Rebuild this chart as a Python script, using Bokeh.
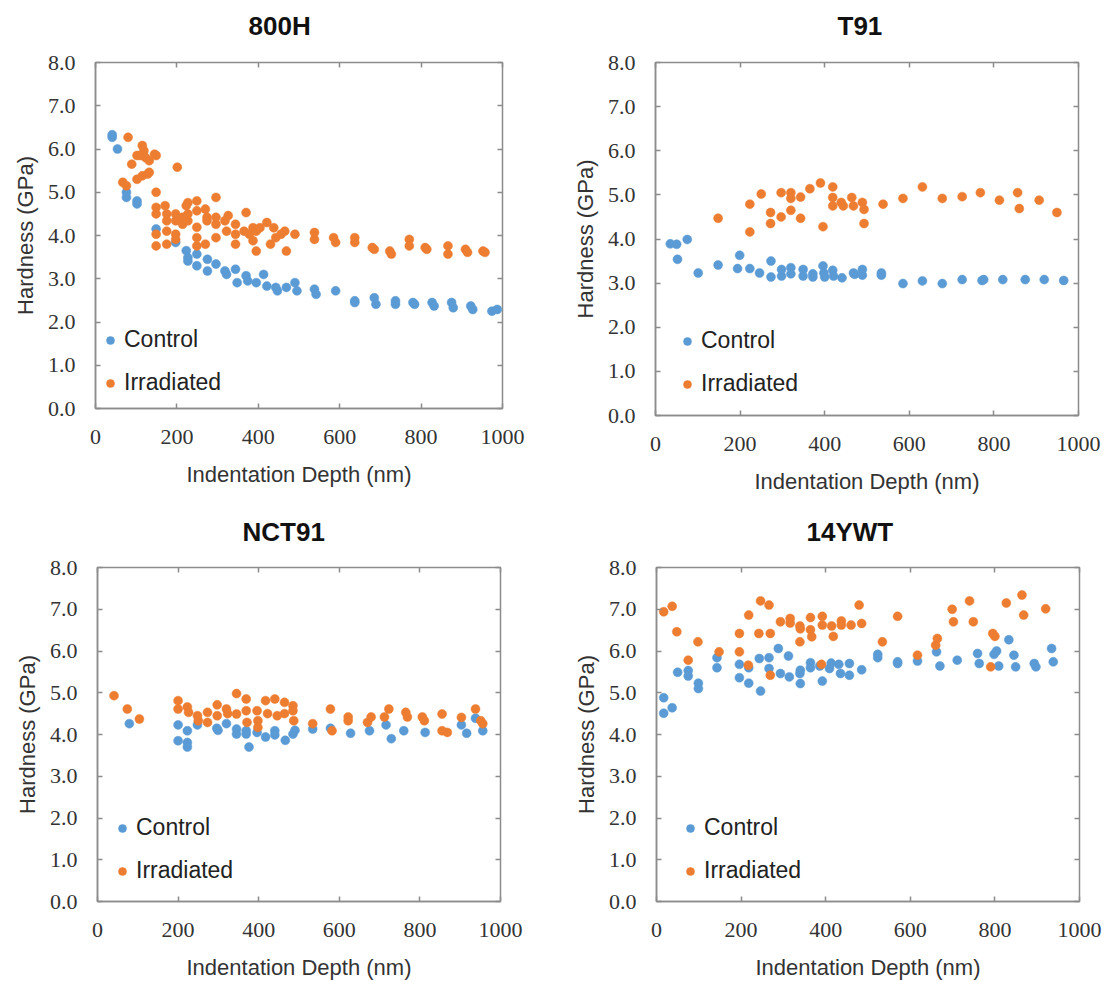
from bokeh.plotting import figure
from bokeh.models import (FixedTicker, LinearAxis, Legend, LegendItem, Title,
                          PrintfTickFormatter, CustomJSTickFormatter)
from bokeh.layouts import column, row
from bokeh.embed import file_html
from bokeh.resources import INLINE

# ---------------- data ----------------
x_ticks = [0, 200, 400, 600, 800, 1000]
y_ticks = [0, 1, 2, 3, 4, 5, 6, 7, 8]
titles = ["800H", "T91", "NCT91", "14YWT"]
series_names = ["Control", "Irradiated"]
x_label = "Indentation Depth (nm)"
y_label = "Hardness (GPa)"

h800_ctrl_x = [41, 41, 54, 76, 76, 102, 102, 149, 197, 223, 227, 227, 249, 249, 275, 275, 296, 318, 322, 344,
               348, 370, 374, 395, 413, 421, 443, 447, 469, 490, 495, 538, 542, 590, 637, 637, 685, 689, 737, 737,
               780, 784, 827, 832, 875, 879, 922, 927, 974, 987]
h800_ctrl_y = [6.33, 6.27, 6.0, 5.0, 4.88, 4.8, 4.73, 4.15, 3.84, 3.65, 3.49, 3.41, 3.57, 3.3, 3.45, 3.18, 3.34, 3.18, 3.1, 3.22,
               2.91, 3.07, 2.95, 2.91, 3.1, 2.83, 2.8, 2.72, 2.8, 2.91, 2.72, 2.76, 2.64, 2.72, 2.49, 2.45, 2.56, 2.41, 2.49, 2.41,
               2.45, 2.41, 2.45, 2.37, 2.45, 2.33, 2.37, 2.29, 2.25, 2.29]
h800_irr_x = [80, 115, 119, 89, 102, 110, 123, 132, 145, 149, 67, 76, 102, 115, 128, 132, 201,
              149, 149, 149, 149, 149, 171, 175, 175, 175, 175, 197, 197, 197, 197,
              214, 214, 223, 227, 227, 227, 249, 249, 249, 249, 249, 270, 274, 274, 270,
              296, 296, 296, 296, 318, 322, 326, 344, 344, 344,
              370, 365, 378, 387, 387, 395, 395, 404, 421, 430, 438, 443, 456, 465, 469, 490,
              538, 538, 585, 590, 637, 637, 680, 685, 723, 727, 771, 771, 810, 814, 866, 866, 909, 914, 952, 957]
h800_irr_y = [6.27, 6.08, 5.96, 5.65, 5.85, 5.85, 5.8, 5.73, 5.88, 5.85, 5.23, 5.15, 5.3, 5.38, 5.42, 5.46, 5.58,
              5.0, 4.65, 4.5, 4.03, 3.76, 4.69, 4.5, 4.34, 4.1, 3.8, 4.5, 4.34, 4.03, 3.91,
              4.42, 4.26, 4.69, 4.76, 4.5, 4.34, 4.8, 4.57, 4.19, 3.95, 3.76, 4.61, 4.42, 4.34, 3.8,
              4.88, 4.42, 4.26, 3.95, 4.34, 4.1, 4.46, 4.26, 4.03, 3.8,
              4.53, 4.1, 4.03, 3.88, 4.18, 4.1, 3.64, 4.18, 4.3, 3.8, 4.18, 3.95, 4.03, 4.1, 3.64, 4.03,
              4.07, 3.91, 3.95, 3.84, 3.95, 3.84, 3.72, 3.68, 3.64, 3.57, 3.91, 3.76, 3.72, 3.68, 3.76, 3.57, 3.68, 3.61, 3.64, 3.61]

t91_ctrl_x = [35, 50, 75, 52, 101, 148, 194, 199, 223, 246, 273, 273, 298, 298, 320, 320, 349, 349, 372, 372,
              396, 398, 400, 419, 421, 441, 468, 471, 489, 489, 534, 534, 585, 631, 678, 725, 772, 776, 821, 874,
              919, 965]
t91_ctrl_y = [3.89, 3.88, 3.99, 3.54, 3.23, 3.41, 3.33, 3.63, 3.33, 3.23, 3.5, 3.14, 3.31, 3.16, 3.35, 3.21, 3.31, 3.16, 3.21, 3.14,
              3.39, 3.23, 3.14, 3.29, 3.16, 3.12, 3.23, 3.2, 3.31, 3.18, 3.23, 3.18, 2.99, 3.05, 2.99, 3.08, 3.06, 3.08, 3.08, 3.08,
              3.08, 3.06]
t91_irr_x = [148, 223, 223, 250, 272, 272, 297, 297, 320, 320, 320, 343, 343, 365, 390, 396, 419, 419, 419, 439,
             444, 464, 468, 489, 493, 493, 538, 585, 631, 678, 725, 768, 813, 856, 860, 907, 949]
t91_irr_y = [4.47, 4.79, 4.16, 5.02, 4.6, 4.35, 5.05, 4.5, 5.05, 4.92, 4.65, 4.95, 4.47, 5.14, 5.27, 4.28, 5.18, 4.94, 4.75, 4.83,
             4.75, 4.94, 4.75, 4.83, 4.67, 4.35, 4.79, 4.92, 5.18, 4.92, 4.96, 5.05, 4.88, 5.05, 4.69, 4.88, 4.6]

nct_ctrl_x = [79, 200, 200, 223, 223, 223, 248, 296, 299, 320, 345, 345, 369, 369, 376, 396, 417, 440, 440, 466,
              485, 490, 534, 578, 628, 675, 716, 729, 760, 813, 903, 916, 938, 956]
nct_ctrl_y = [4.26, 4.23, 3.85, 4.09, 3.81, 3.7, 4.23, 4.15, 4.1, 4.26, 4.13, 4.01, 4.09, 4.01, 3.7, 4.05, 3.94, 4.09, 3.99, 3.86,
              4.01, 4.1, 4.13, 4.15, 4.03, 4.09, 4.23, 3.9, 4.09, 4.05, 4.23, 4.03, 4.39, 4.09]
nct_irr_x = [41, 74, 104, 200, 200, 223, 226, 248, 250, 273, 273, 297, 297, 320, 323, 345, 345, 369, 369, 371,
             396, 398, 398, 417, 422, 440, 446, 464, 464, 485, 485, 487, 534, 578, 582, 622, 622, 670, 679, 712,
             723, 765, 769, 806, 811, 855, 855, 868, 903, 938, 951, 956]
nct_irr_y = [4.93, 4.61, 4.37, 4.81, 4.61, 4.66, 4.53, 4.45, 4.33, 4.53, 4.29, 4.71, 4.45, 4.61, 4.5, 4.98, 4.49, 4.85, 4.57, 4.29,
             4.57, 4.33, 4.17, 4.81, 4.5, 4.85, 4.45, 4.77, 4.5, 4.69, 4.57, 4.33, 4.26, 4.61, 4.09, 4.42, 4.33, 4.29, 4.42, 4.42,
             4.61, 4.53, 4.42, 4.42, 4.33, 4.49, 4.09, 4.05, 4.41, 4.61, 4.33, 4.26]

ywt_ctrl_x = [17, 17, 37, 50, 75, 75, 99, 99, 143, 143, 196, 196, 218, 218, 243, 246, 266, 266, 288, 293,
              312, 314, 339, 340, 340, 364, 364, 386, 392, 409, 413, 431, 435, 456, 456, 485, 523, 523, 570, 570,
              617, 662, 670, 711, 759, 763, 798, 804, 809, 833, 845, 849, 893, 897, 934, 938]
ywt_ctrl_y = [4.88, 4.51, 4.64, 5.49, 5.53, 5.4, 5.23, 5.1, 5.84, 5.6, 5.68, 5.36, 5.6, 5.23, 5.82, 5.04, 5.84, 5.58, 6.06, 5.46,
              5.88, 5.38, 5.46, 5.22, 5.54, 5.72, 5.6, 5.64, 5.28, 5.58, 5.71, 5.68, 5.46, 5.7, 5.42, 5.55, 5.92, 5.84, 5.74, 5.7,
              5.76, 5.98, 5.64, 5.78, 5.94, 5.7, 5.92, 6.0, 5.64, 6.27, 5.9, 5.62, 5.7, 5.62, 6.06, 5.74]
ywt_irr_x = [17, 37, 48, 75, 98, 148, 196, 196, 218, 217, 246, 242, 266, 269, 269, 293, 316, 316, 339, 340,
             339, 364, 364, 367, 392, 392, 390, 414, 418, 437, 437, 460, 479, 485, 534, 570, 617, 660, 664, 699,
             702, 740, 749, 790, 795, 800, 827, 864, 868, 920]
ywt_irr_y = [6.94, 7.07, 6.46, 5.78, 6.22, 5.98, 6.42, 5.98, 6.86, 5.66, 7.2, 6.42, 7.1, 6.42, 5.42, 6.7, 6.78, 6.67, 6.6, 6.53,
             6.22, 6.8, 6.51, 6.34, 6.83, 6.62, 5.68, 6.6, 6.35, 6.72, 6.62, 6.62, 7.1, 6.66, 6.22, 6.83, 5.9, 6.14, 6.3, 7.0,
             6.7, 7.2, 6.7, 5.62, 6.42, 6.35, 7.15, 7.34, 6.86, 7.01]

# ---------------- style ----------------
BLUE = "#5B9BD5"
ORANGE = "#ED7D31"
GRAY = "#8C8C8C"
SANS = "Liberation Sans"
SERIF = "Liberation Serif"


def style_axis(ax, ticks):
    ax.ticker = FixedTicker(ticks=ticks)
    ax.axis_line_color = GRAY
    ax.axis_line_width = 1.5
    ax.major_tick_line_color = GRAY
    ax.major_tick_line_width = 1.5
    ax.major_tick_in = 5
    ax.major_tick_out = 0
    ax.minor_tick_line_color = None


def mirror_axis(ticks, tick_out=0):
    # unlabeled axis on the top / right edge carrying inward tick marks
    ax = LinearAxis()
    style_axis(ax, ticks)
    ax.axis_line_color = None
    ax.formatter = CustomJSTickFormatter(code="return ''")
    ax.major_label_standoff = 0
    ax.major_tick_out = tick_out
    return ax


def make_panel(title, cx, cy, ix, iy, left, fw, right, top, fh, bottom, title_offset, title_gap, leg_x, leg_y):
    p = figure(frame_width=fw, frame_height=fh, x_range=(0, 1000), y_range=(0, 8),
               output_backend="svg", toolbar_location=None,
               min_border_left=left, min_border_right=right,
               min_border_top=top, min_border_bottom=bottom)
    p.outline_line_color = GRAY
    p.outline_line_width = 1.5
    p.xgrid.grid_line_color = None
    p.ygrid.grid_line_color = None

    xa = p.xaxis[0]
    style_axis(xa, x_ticks)
    xa.major_label_text_font = SERIF
    xa.major_label_text_font_size = "22px"
    xa.major_label_text_color = "#333333"
    xa.major_label_standoff = 21
    xa.axis_label = x_label
    xa.axis_label_text_font = SANS
    xa.axis_label_text_font_size = "22px"
    xa.axis_label_text_font_style = "normal"
    xa.axis_label_text_color = "#333333"
    xa.axis_label_standoff = 15

    ya = p.yaxis[0]
    style_axis(ya, y_ticks)
    ya.formatter = PrintfTickFormatter(format="%.1f")
    ya.major_label_text_font = SERIF
    ya.major_label_text_font_size = "22px"
    ya.major_label_text_color = "#333333"
    ya.major_label_standoff = 20
    ya.axis_label = y_label
    ya.axis_label_text_font = SANS
    ya.axis_label_text_font_size = "22px"
    ya.axis_label_text_font_style = "normal"
    ya.axis_label_text_color = "#333333"
    ya.axis_label_standoff = 7

    # visible inward ticks on the top edge
    p.add_layout(mirror_axis(x_ticks), "above")
    # second top axis: no visible marks, its outward extent is the gap below the title
    gap = mirror_axis(x_ticks, tick_out=title_gap)
    gap.major_tick_line_color = None
    gap.major_tick_in = 0
    p.add_layout(gap, "above")
    p.add_layout(Title(text=title, align="left", offset=title_offset, standoff=0,
                       text_font=SANS, text_font_size="26px", text_font_style="bold",
                       text_color="#111111"), "above")
    p.add_layout(mirror_axis(y_ticks), "right")

    rc = p.scatter(cx, cy, size=9, marker="circle", fill_color=BLUE, line_color=BLUE, line_width=0.5)
    ri = p.scatter(ix, iy, size=9, marker="circle", fill_color=ORANGE, line_color=ORANGE, line_width=0.5)

    legend = Legend(items=[LegendItem(label=series_names[0], renderers=[rc]),
                           LegendItem(label=series_names[1], renderers=[ri])],
                    location=(leg_x, leg_y))
    legend.border_line_color = None
    legend.background_fill_alpha = 0
    legend.label_text_font = SANS
    legend.label_text_font_size = "23px"
    legend.label_text_color = "#222222"
    legend.glyph_width = 20
    legend.glyph_height = 20
    legend.label_height = 20
    legend.label_standoff = 4
    legend.spacing = 16
    legend.padding = 0
    legend.margin = 0
    p.add_layout(legend)
    return p


p1 = make_panel(titles[0], h800_ctrl_x, h800_ctrl_y, h800_irr_x, h800_irr_y,
                95, 407, 51, 62, 346, 92, 153, 22, 5, 12)
p2 = make_panel(titles[1], t91_ctrl_x, t91_ctrl_y, t91_irr_x, t91_irr_y,
                102, 423, 28, 61, 353, 86, 182, 22, 22, 18)
p3 = make_panel(titles[2], nct_ctrl_x, nct_ctrl_y, nct_irr_x, nct_irr_y,
                97, 403, 53, 67, 334, 80, 145, 21, 15, 17)
p4 = make_panel(titles[3], ywt_ctrl_x, ywt_ctrl_y, ywt_irr_x, ywt_irr_y,
                103, 423, 27, 67, 334, 80, 150, 21, 24, 17)

layout = column(row(p1, p2), row(p3, p4))
open("out.html", "w").write(file_html(layout, INLINE))
